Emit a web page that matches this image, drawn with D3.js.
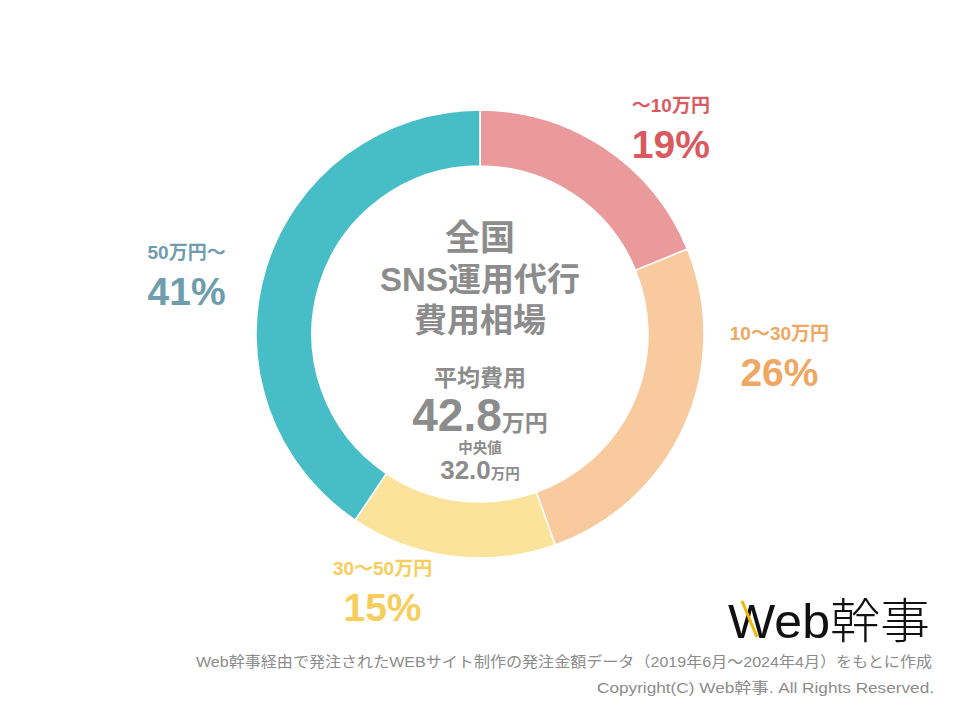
<!DOCTYPE html>
<html>
<head>
<meta charset="utf-8">
<script src="https://cdn.jsdelivr.net/npm/d3@7"></script>
<style>
  html, body { margin: 0; padding: 0; background: #fff; }
  svg { display: block; }
  text { font-family: "Liberation Sans", Arial, "Noto Sans CJK JP", sans-serif; }
</style>
</head>
<body>
<script>
// ---- data ----
const categories = ["〜10万円", "10〜30万円", "30〜50万円", "50万円〜"];
const shares = [19, 26, 15, 41];
const percentLabels = ["19%", "26%", "15%", "41%"];
const sliceColors = ["#EA9A9A", "#F8CA9D", "#FCE39C", "#47BDC8"];
const labelColors = ["#D95A5F", "#EFA764", "#F7CD5B", "#6E9EAD"];
const centerTitle = ["全国", "SNS運用代行", "費用相場"];
const averageLabel = "平均費用";
const averageValue = "42.8";
const medianLabel = "中央値";
const medianValue = "32.0";
const unit = "万円";
const footnote = "Web幹事経由で発注されたWEBサイト制作の発注金額データ（2019年6月～2024年4月）をもとに作成";
const copyright = "Copyright(C) Web幹事. All Rights Reserved.";

// ---- layout ----
const W = 960, H = 720;
const cx = 480, cy = 334, R = 224, r = 168;
// label anchors: [angle in degrees clockwise from top, distance from centre]
const labelAt = [[42.4, 283], [93.6, 300], [201, 272], [282, 300]];

const svg = d3.select("body").append("svg").attr("width", W).attr("height", H);

const pie = d3.pie().sort(null).value(d => d);
const arc = d3.arc().innerRadius(r).outerRadius(R);
const g = svg.append("g").attr("transform", `translate(${cx},${cy})`);

g.selectAll("path").data(pie(shares)).join("path")
  .attr("d", arc)
  .attr("fill", (d, i) => sliceColors[i])
  .attr("stroke", "#fff")
  .attr("stroke-width", 1.5);

// slice labels
const lab = g.selectAll("g.lab").data(pie(shares)).join("g").attr("class", "lab")
  .attr("transform", (d, i) => {
    const a = labelAt[i][0] * Math.PI / 180, dist = labelAt[i][1];
    return `translate(${dist * Math.sin(a)},${-dist * Math.cos(a)})`;
  });
lab.append("text")
  .attr("text-anchor", "middle").attr("y", -13)
  .attr("font-size", 19).attr("font-weight", "bold")
  .attr("fill", (d, i) => labelColors[i])
  .text((d, i) => categories[i]);
lab.append("text")
  .attr("text-anchor", "middle").attr("y", 33)
  .attr("font-size", 39).attr("font-weight", "bold")
  .attr("fill", (d, i) => labelColors[i])
  .text((d, i) => percentLabels[i]);

// centre text
const gray = "#8C8C8C";
const ct = svg.append("g").attr("fill", gray).attr("font-weight", "bold").attr("text-anchor", "middle");
const titleY = [250, 291, 332];
const titleSize = [35, 33, 33];
centerTitle.forEach((t, i) => {
  ct.append("text").attr("x", cx).attr("y", titleY[i]).attr("font-size", titleSize[i]).text(t);
});
ct.append("text").attr("x", cx).attr("y", 386).attr("font-size", 23).text(averageLabel);
const avg = ct.append("text").attr("x", cx).attr("y", 431);
avg.append("tspan").attr("font-size", 46).text(averageValue);
avg.append("tspan").attr("font-size", 23).text(unit);
ct.append("text").attr("x", cx).attr("y", 453).attr("font-size", 14.5).text(medianLabel);
const med = ct.append("text").attr("x", cx).attr("y", 479);
med.append("tspan").attr("font-size", 26).text(medianValue);
med.append("tspan").attr("font-size", 14.5).text(unit);

// logo
const logo = svg.append("g");
logo.append("text").attr("x", 728).attr("y", 638)
  .attr("font-family", "'Noto Sans CJK JP', sans-serif")
  .attr("font-size", 48).attr("font-weight", 300).attr("fill", "#111")
  .attr("textLength", 202).attr("lengthAdjust", "spacingAndGlyphs")
  .text("Web幹事");
logo.append("line").attr("x1", 742).attr("y1", 601).attr("x2", 757).attr("y2", 637)
  .attr("stroke", "#F2B705").attr("stroke-width", 3);

// footer
svg.append("text").attr("x", 932).attr("y", 667).attr("text-anchor", "end")
  .attr("font-size", 15).attr("fill", "#8C8C8C")
  .attr("textLength", 736).attr("lengthAdjust", "spacingAndGlyphs")
  .text(footnote);
svg.append("text").attr("x", 934).attr("y", 693).attr("text-anchor", "end")
  .attr("font-size", 15).attr("fill", "#8C8C8C")
  .attr("textLength", 337).attr("lengthAdjust", "spacingAndGlyphs")
  .text(copyright);
</script>
</body>
</html>
